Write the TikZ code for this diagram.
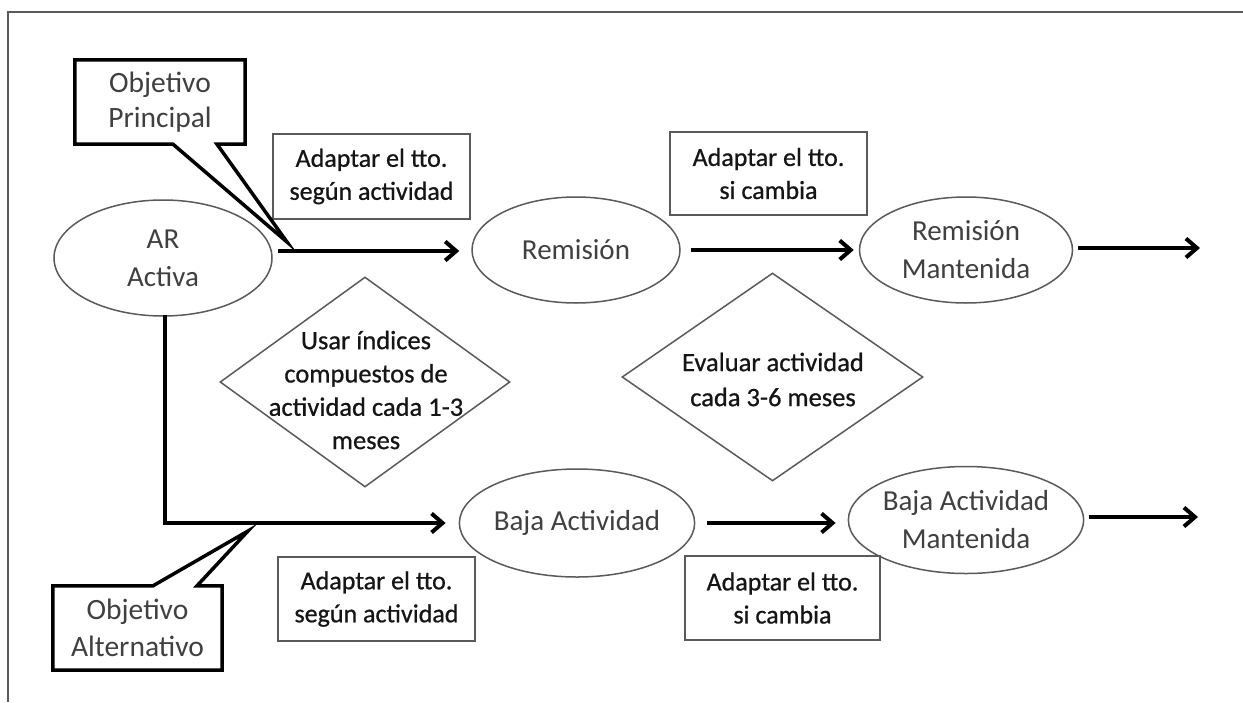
\documentclass[tikz,border=0pt]{standalone}
\usepackage{fontspec}
\setmainfont{Carlito}
\newfontfamily\heavyfont{Carlito}[FakeBold=0.7]
\usetikzlibrary{shapes.geometric,arrows.meta,calc}
\definecolor{txtgray}{HTML}{404040}
\definecolor{txtdark}{HTML}{151515}
\definecolor{linegray}{HTML}{5A5A5A}
\begin{document}
\begin{tikzpicture}[x=1pt,y=-1pt,
  ell/.style={ellipse, draw=linegray, line width=1.5pt, inner sep=0pt, align=center,
    text=txtgray, font=\fontsize{29}{38}\selectfont},
  box/.style={rectangle, draw=linegray, line width=1.5pt, inner sep=0pt, align=center,
    text=txtdark, font=\heavyfont\fontsize{26}{33}\selectfont},
  dia/.style={diamond, draw=linegray, line width=1.5pt, inner sep=0pt},
  dtext/.style={align=center, inner sep=0pt, text=txtdark},
  callt/.style={rectangle, draw=none, inner sep=0pt, align=center, text=txtgray,
    minimum width=170pt, minimum height=84pt},
  callout/.style={draw=black, line width=3.5pt, line join=miter},
  arr/.style={draw=black, line width=4pt,
    -{Straight Barb[length=11pt,width=19pt,line width=4pt]}},
  frame/.style={draw=linegray, line width=1.5pt}
]
\useasboundingbox (0,0) rectangle (1243,702);
\fill[white] (0,0) rectangle (1243,702);

% frame (top and left)
\coordinate (ftr) at (1243,12);
\coordinate (ftl) at (8,12);
\coordinate (fbl) at (8,702);
\draw[frame] (ftr) -- (ftl) -- (fbl);

% ellipses
\node[ell, minimum width=218pt, minimum height=116pt] (ar) at (163,258) {AR\\Activa};
\node[ell, minimum width=208pt, minimum height=106pt] (rem) at (576,250) {Remisión};
\node[ell, minimum width=213pt, minimum height=106pt] (rm) at (966,250) {Remisión\\Mantenida};
\node[ell, minimum width=211pt, minimum height=108pt] (ba) at (577,523) {Baja Actividad};
\node[ell, minimum width=213pt, minimum height=107pt] (bam) at (966,520) {Baja Actividad\\Mantenida};

% boxes
\node[box, minimum width=197pt, minimum height=85pt] (b1) at (371.5,176.5) {Adaptar el tto.\\según actividad};
\node[box, minimum width=197pt, minimum height=83pt] (b2) at (768.5,173.5) {Adaptar el tto.\\si cambia};
\node[box, minimum width=197pt, minimum height=84pt] (b3) at (376.5,599) {Adaptar el tto.\\según actividad};
\node[box, minimum width=195pt, minimum height=84pt] (b4) at (782.5,598) {Adaptar el tto.\\si cambia};

% diamonds
\node[dia, minimum width=290pt, minimum height=210pt] (d1) at (365,382) {};
\node[dtext, font=\heavyfont\fontsize{26.5}{33.3}\selectfont] (d1t) at (366,390) {Usar índices\\compuestos de\\actividad cada 1-3\\meses};
\node[dia, minimum width=301pt, minimum height=208pt] (d2) at (772.5,377) {};
\node[dtext, font=\heavyfont\fontsize{26.5}{35}\selectfont] (d2t) at (773,379.5) {Evaluar actividad\\cada 3-6 meses};

% arrows
\coordinate (e1) at (1200,248);
\coordinate (e2) at (1198,517);
\draw[arr] ($(ar.east |- rem.west)+(5,1)$) -- ($(rem.west)+(-12,1)$);
\draw[arr] ($(rem.east)+(10,0)$) -- ($(rm.west)+(-5,0)$);
\draw[arr] ($(rm.east)+(5,-2)$) -- (e1);
\draw[arr] ($(ar.south)+(2,-2)$) |- ($(ba.west)+(-13,0)$);
\draw[arr] ($(ba.east)+(12,0)$) -- ($(bam.west |- ba.east)+(-12,0)$);
\draw[arr] ($(bam.east)+(5,-3)$) -- (e2);

% callouts
\node[callt, font=\fontsize{29.5}{35}\selectfont] (cp) at (160,102) {Objetivo\\Principal};
\coordinate (cptip) at (287,242);
\draw[callout] (cp.north west) -- (cp.north east) -- (cp.south east)
  -- ($(cp.south)+(57,0)$) -- (cptip) -- ($(cp.south)+(13,0)$) -- (cp.south west) -- cycle;

\node[callt, minimum width=169pt, font=\fontsize{29.5}{37}\selectfont] (ca) at (137.5,628) {Objetivo\\Alternativo};
\coordinate (catip) at (248,531);
\draw[callout] (ca.south west) -- (ca.north west) -- ($(ca.north)+(15.5,0)$)
  -- (catip) -- ($(ca.north)+(59.5,0)$) -- (ca.north east) -- (ca.south east) -- cycle;
\end{tikzpicture}
\end{document}
